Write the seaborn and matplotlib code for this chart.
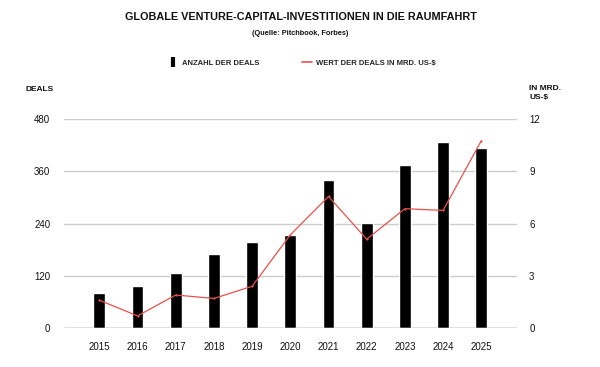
import numpy as np
import pandas as pd
import matplotlib
matplotlib.use("Agg")
import matplotlib.pyplot as plt
import seaborn as sns
from matplotlib.lines import Line2D

years = ["2015", "2016", "2017", "2018", "2019", "2020", "2021", "2022", "2023", "2024", "2025"]
deals = [80, 97, 127, 169, 198, 214, 340, 242, 375, 426, 413]
value_bn = [1.6, 0.7, 1.9, 1.7, 2.4, 5.35, 7.55, 5.1, 6.85, 6.75, 10.75]
left_ticks = [0, 120, 240, 360, 480]
right_ticks = [0, 3, 6, 9, 12]

df = pd.DataFrame({"year": years, "deals": deals, "value": value_bn})

sns.set_theme(style="white")
plt.rcParams["font.family"] = ["Liberation Sans", "DejaVu Sans"]

fig = plt.figure(figsize=(6, 3.67), dpi=100)
ax = fig.add_axes([0.107, 0.106, 0.755, 0.570])

# bars: number of deals
sns.barplot(data=df, x="year", y="deals", color="black", width=0.31,
            saturation=1, ax=ax, zorder=3)
ax.set_ylim(0, 480)
ax.set_yticks(left_ticks)
ax.set_xlim(-0.92, 10.94)
ax.grid(axis="y", color="#cccccc", linewidth=1, zorder=0)
ax.set_axisbelow(True)
for s in ax.spines.values():
    s.set_visible(False)
ax.axhline(0, color="#888888", linewidth=1, zorder=4)
ax.set_xlabel("")
ax.set_ylabel("")
ax.tick_params(axis="both", length=0, labelsize=7, colors="#111111")
ax.tick_params(axis="y", pad=10)
ax.tick_params(axis="x", pad=10)

# line: value in bn US-$
ax2 = ax.twinx()
sns.lineplot(x=np.arange(len(years)), y=df["value"], ax=ax2, color="#e8504a",
             linewidth=0.9, marker="o", markersize=1.6, markeredgewidth=0)
ax2.set_ylim(0, 12)
ax2.set_yticks(right_ticks)
ax2.set_ylabel("")
for s in ax2.spines.values():
    s.set_visible(False)
ax2.tick_params(axis="y", length=0, labelsize=7, pad=8.6, colors="#111111")
ax2.grid(False)

fig.text(0.502, 0.955, "GLOBALE VENTURE-CAPITAL-INVESTITIONEN IN DIE RAUMFAHRT",
         ha="center", va="center", fontsize=7.8, fontweight="bold", color="#111111")
fig.text(0.5, 0.908, "(Quelle: Pitchbook, Forbes)", ha="center", va="center",
         fontsize=5.3, fontweight="bold", color="#111111")
fig.text(0.042, 0.757, "DEALS", ha="left", va="center", fontsize=6,
         fontweight="bold", color="#111111")
fig.text(0.882, 0.768, "IN MRD.\nUS-$", ha="left", va="top", fontsize=6,
         fontweight="bold", color="#111111", linespacing=1.3)

handles = [
    Line2D([], [], color="black", marker="|", markersize=7, markeredgewidth=3,
           linestyle="None"),
    Line2D([], [], color="#e8504a", linewidth=1.2),
]
fig.legend(handles, ["ANZAHL DER DEALS", "WERT DER DEALS IN MRD. US-$"],
           loc="center", bbox_to_anchor=(0.503, 0.828), ncol=2, frameon=False,
           handlelength=1.3, columnspacing=5.5, handletextpad=0.6,
           prop={"weight": "bold", "size": 5.5})

fig.savefig("out.png", dpi=100)
